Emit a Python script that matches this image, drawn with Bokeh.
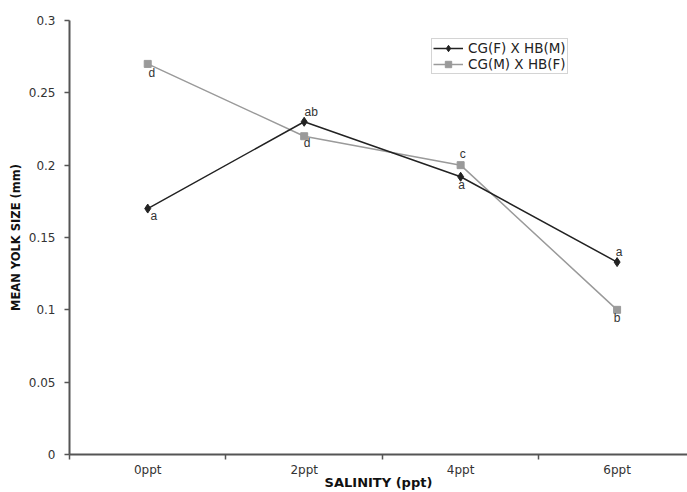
from bokeh.plotting import figure
from bokeh.models import ColumnDataSource, FixedTicker, NumeralTickFormatter, Legend, LegendItem
from bokeh.core.properties import value
from bokeh.embed import file_html
from bokeh.resources import INLINE

# ---- data ----
categories = ["0ppt", "2ppt", "4ppt", "6ppt"]
series1_name = "CG(F) X HB(M)"
series1_values = [0.170, 0.230, 0.192, 0.133]
series1_letters = ["a", "ab", "a", "a"]
series2_name = "CG(M) X HB(F)"
series2_values = [0.270, 0.220, 0.200, 0.100]
series2_letters = ["d", "d", "c", "b"]
y_ticks = [0, 0.05, 0.1, 0.15, 0.2, 0.25, 0.3]
x_title = "SALINITY (ppt)"
y_title = "MEAN YOLK SIZE (mm)"

# category positions (centre of each slot)
xpos = [i + 0.5 for i in range(len(categories))]
bounds = list(range(len(categories)))

p = figure(width=687, height=492, output_backend="svg", toolbar_location=None,
           x_range=(0, 3.95), y_range=(0, 0.3),
           min_border_left=69, min_border_right=0, min_border_top=20, min_border_bottom=37)
p.outline_line_color = None
p.background_fill_color = "white"
p.border_fill_color = "white"
p.xgrid.visible = False
p.ygrid.visible = False

c1 = "#222222"
c2 = "#9a9a9a"

s1 = ColumnDataSource(dict(x=xpos, y=series1_values, t=series1_letters,
                           dx=[6, 7, 1, 2], dy=[7, -10, 8, -10]))
s2 = ColumnDataSource(dict(x=xpos, y=series2_values, t=series2_letters,
                           dx=[4, 3, 2, 0], dy=[9, 7, -11, 8]))

l2 = p.line("x", "y", source=s2, line_color=c2, line_width=1.5)
m2 = p.scatter("x", "y", source=s2, marker="square", size=7, fill_color=c2, line_color=c2)
l1 = p.line("x", "y", source=s1, line_color=c1, line_width=1.5)
m1 = p.scatter("x", "y", source=s1, marker="diamond", size=9, fill_color=c1, line_color=c1)

for src in (s1, s2):
    p.text("x", "y", text="t", source=src, x_offset="dx", y_offset="dy",
           text_align="center", text_baseline="middle",
           text_font=value("Liberation Sans"), text_font_size="12px", text_color="#333333")

legend = Legend(items=[LegendItem(label=series1_name, renderers=[l1, m1]),
                       LegendItem(label=series2_name, renderers=[l2, m2])],
                location=(362, 380))
legend.label_text_font = "DejaVu Sans"
legend.label_text_font_size = "13.5px"
legend.label_text_color = "#222222"
legend.glyph_width = 30
legend.glyph_height = 16
legend.label_height = 16
legend.label_standoff = 5
legend.spacing = 0
legend.padding = 1
legend.margin = 0
legend.border_line_color = "#aaaaaa"
legend.border_line_width = 1
legend.background_fill_alpha = 1
p.add_layout(legend)

# x axis
xa = p.xaxis[0]
xa.ticker = FixedTicker(ticks=xpos, minor_ticks=bounds)
xa.major_label_overrides = {x: c for x, c in zip(xpos, categories)}
xa.major_tick_out = 0
xa.major_tick_in = 0
xa.minor_tick_out = 5
xa.minor_tick_in = 0
xa.minor_tick_line_color = "#555555"
xa.minor_tick_line_width = 1.5
xa.axis_line_color = "#555555"
xa.axis_line_width = 2
xa.major_label_standoff = 3
xa.major_label_text_font = "DejaVu Sans"
xa.major_label_text_font_size = "12px"
xa.major_label_text_color = "#333333"
xa.axis_label = x_title
xa.axis_label_text_font = "DejaVu Sans"
xa.axis_label_text_font_style = "bold"
xa.axis_label_text_font_size = "13px"
xa.axis_label_text_color = "#111111"
xa.axis_label_standoff = -5

# y axis
ya = p.yaxis[0]
ya.ticker = FixedTicker(ticks=y_ticks, minor_ticks=[])
ya.formatter = NumeralTickFormatter(format="0.[00]")
ya.major_tick_out = 5
ya.major_tick_in = 0
ya.major_tick_line_color = "#555555"
ya.major_tick_line_width = 1.5
ya.axis_line_color = "#555555"
ya.axis_line_width = 2
ya.major_label_standoff = 9
ya.major_label_text_font = "DejaVu Sans"
ya.major_label_text_font_size = "12px"
ya.major_label_text_color = "#333333"
ya.axis_label = y_title
ya.axis_label_text_font = "DejaVu Sans"
ya.axis_label_text_font_style = "bold"
ya.axis_label_text_font_size = "11.5px"
ya.axis_label_text_color = "#111111"
ya.axis_label_standoff = 3

open("out.html", "w").write(file_html(p, INLINE))
